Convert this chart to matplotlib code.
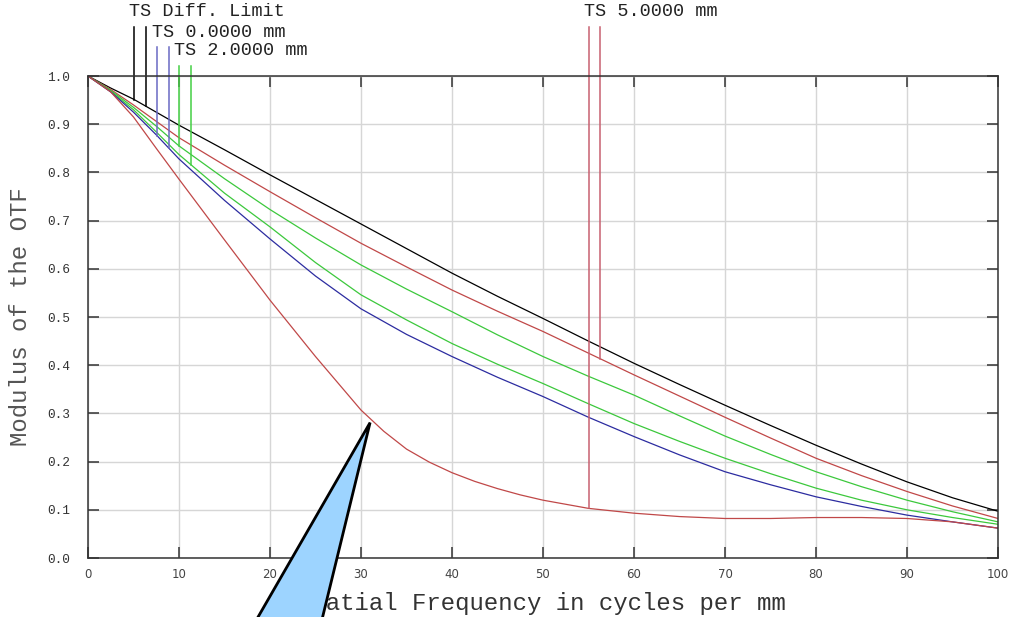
import numpy as np
import matplotlib
matplotlib.use("Agg")
import matplotlib.pyplot as plt
from matplotlib.patches import Polygon

# spatial frequency (cycles/mm) where the curves were read
freq = [0, 2.5, 5, 7.5, 10, 15, 20, 25, 30, 35, 40, 45, 50,
        55, 60, 65, 70, 75, 80, 85, 90, 95, 100]

diff_limit = [1.0, 0.975, 0.952, 0.925, 0.898, 0.847, 0.795, 0.744, 0.693, 0.642, 0.591, 0.543, 0.497,
              0.450, 0.404, 0.360, 0.317, 0.275, 0.234, 0.195, 0.158, 0.125, 0.097]
field0 = [1.0, 0.967, 0.925, 0.878, 0.828, 0.742, 0.662, 0.585, 0.517, 0.464, 0.418, 0.375, 0.335,
          0.292, 0.252, 0.214, 0.179, 0.152, 0.127, 0.107, 0.089, 0.075, 0.062]
field2_a = [1.0, 0.970, 0.935, 0.896, 0.855, 0.787, 0.723, 0.664, 0.608, 0.558, 0.511, 0.463, 0.418,
            0.377, 0.338, 0.295, 0.253, 0.215, 0.179, 0.148, 0.120, 0.096, 0.075]
field2_b = [1.0, 0.968, 0.930, 0.884, 0.837, 0.757, 0.687, 0.613, 0.546, 0.494, 0.445, 0.402, 0.362,
            0.320, 0.279, 0.242, 0.207, 0.175, 0.145, 0.120, 0.100, 0.084, 0.070]
field5_a = [1.0, 0.972, 0.940, 0.906, 0.872, 0.815, 0.760, 0.706, 0.653, 0.604, 0.556, 0.512, 0.470,
            0.425, 0.380, 0.336, 0.292, 0.249, 0.207, 0.171, 0.138, 0.108, 0.082]

# the strongly bending 5 mm curve was read more densely
freq_5b = [0, 2.5, 5, 7.5, 10, 15, 20, 25, 30, 32.5, 35, 37.5, 40, 42.5, 45, 47.5, 50,
           55, 60, 65, 70, 75, 80, 85, 90, 95, 100]
field5_b = [1.0, 0.967, 0.915, 0.850, 0.786, 0.660, 0.535, 0.418, 0.307, 0.263, 0.226, 0.199, 0.177,
            0.159, 0.144, 0.131, 0.120, 0.103, 0.093, 0.086, 0.082, 0.082, 0.084, 0.084, 0.082,
            0.075, 0.062]

labels = ["TS Diff. Limit", "TS 0.0000 mm", "TS 2.0000 mm", "TS 5.0000 mm"]
leader_x = [(5.1, 6.4), (7.6, 8.9), (10.0, 11.35), (55.05, 56.3)]
leader_top = [1.102, 1.060, 1.021, 1.102]
label_y = [1.133, 1.091, 1.052, 1.133]

BLACK = "#000000"
BLUE = "#2c2ca0"
GREEN = "#3cc83c"
RED = "#c04848"

mono = "Liberation Mono"

fig = plt.figure(figsize=(10.09, 6.17), dpi=100)
ax = fig.add_axes([0.0872, 0.0956, 0.9019, 0.7812])

ax.plot(freq, diff_limit, color=BLACK, lw=0.9)
ax.plot(freq, field5_a, color=RED, lw=0.9)
ax.plot(freq, field2_a, color=GREEN, lw=0.9)
ax.plot(freq, field2_b, color=GREEN, lw=0.9)
ax.plot(freq, field0, color=BLUE, lw=0.9)
ax.plot(freq_5b, field5_b, color=RED, lw=0.9)

# leader lines from the labels down to the curves
leader_curves = [((freq, diff_limit), (freq, diff_limit)), ((freq, field0), (freq, field0)),
                 ((freq, field2_a), (freq, field2_b)), ((freq_5b, field5_b), (freq, field5_a))]
leader_cols = [BLACK, "#6a6ac4", "#44d044", "#c86070"]
for i in range(4):
    for xl, (fx, cv) in zip(leader_x[i], leader_curves[i]):
        yb = np.interp(xl, fx, cv)
        ax.plot([xl, xl], [leader_top[i], yb], color=leader_cols[i], lw=1.1, clip_on=False)
    ax.text(leader_x[i][0] - 0.55, label_y[i], labels[i], family=mono, fontsize=13.3,
            color="#222222", ha="left", va="center", clip_on=False)

ax.set_xlim(0, 100)
ax.set_ylim(0, 1)
ax.set_xticks(np.arange(0, 101, 10))
ax.set_yticks(np.arange(0, 1.01, 0.1))
ax.set_yticklabels([f"{v:.1f}" for v in np.arange(0, 1.01, 0.1)], family=mono, fontsize=9.2)
ax.tick_params(axis="x", labelsize=8.5, labelcolor="#444444", pad=7)
ax.tick_params(axis="y", labelcolor="#333333", pad=13)
ax.tick_params(direction="in", length=8, width=1.1, color="#333333",
               top=True, right=True)
ax.grid(True, color="#d6d6d6", lw=1.0)
ax.set_axisbelow(True)
for s in ax.spines.values():
    s.set_color("#333333")
    s.set_linewidth(1.1)

ax.set_xlabel("Spatial Frequency in cycles per mm", family=mono, fontsize=17.3, color="#333333")
ax.xaxis.set_label_coords(0.4978, -0.0954)
ax.xaxis.label.set_va("center")
ax.set_ylabel("Modulus of the OTF", family=mono, fontsize=17.3, color="#555555")
ax.yaxis.set_label_coords(-0.0747, 0.5)
ax.yaxis.label.set_va("center")

# callout triangle pointing at the 5 mm curve
tip = fig.transFigure.inverted().transform(ax.transData.transform((31.0, 0.281)))
tri = Polygon([tip, (244.8 / 1009, -0.0373), (317.0 / 1009, -0.0373)], closed=True,
              facecolor="#9dd4ff", edgecolor="black", lw=2.0,
              transform=fig.transFigure, zorder=10, clip_on=False)
fig.add_artist(tri)

fig.savefig("out.png", dpi=100)
